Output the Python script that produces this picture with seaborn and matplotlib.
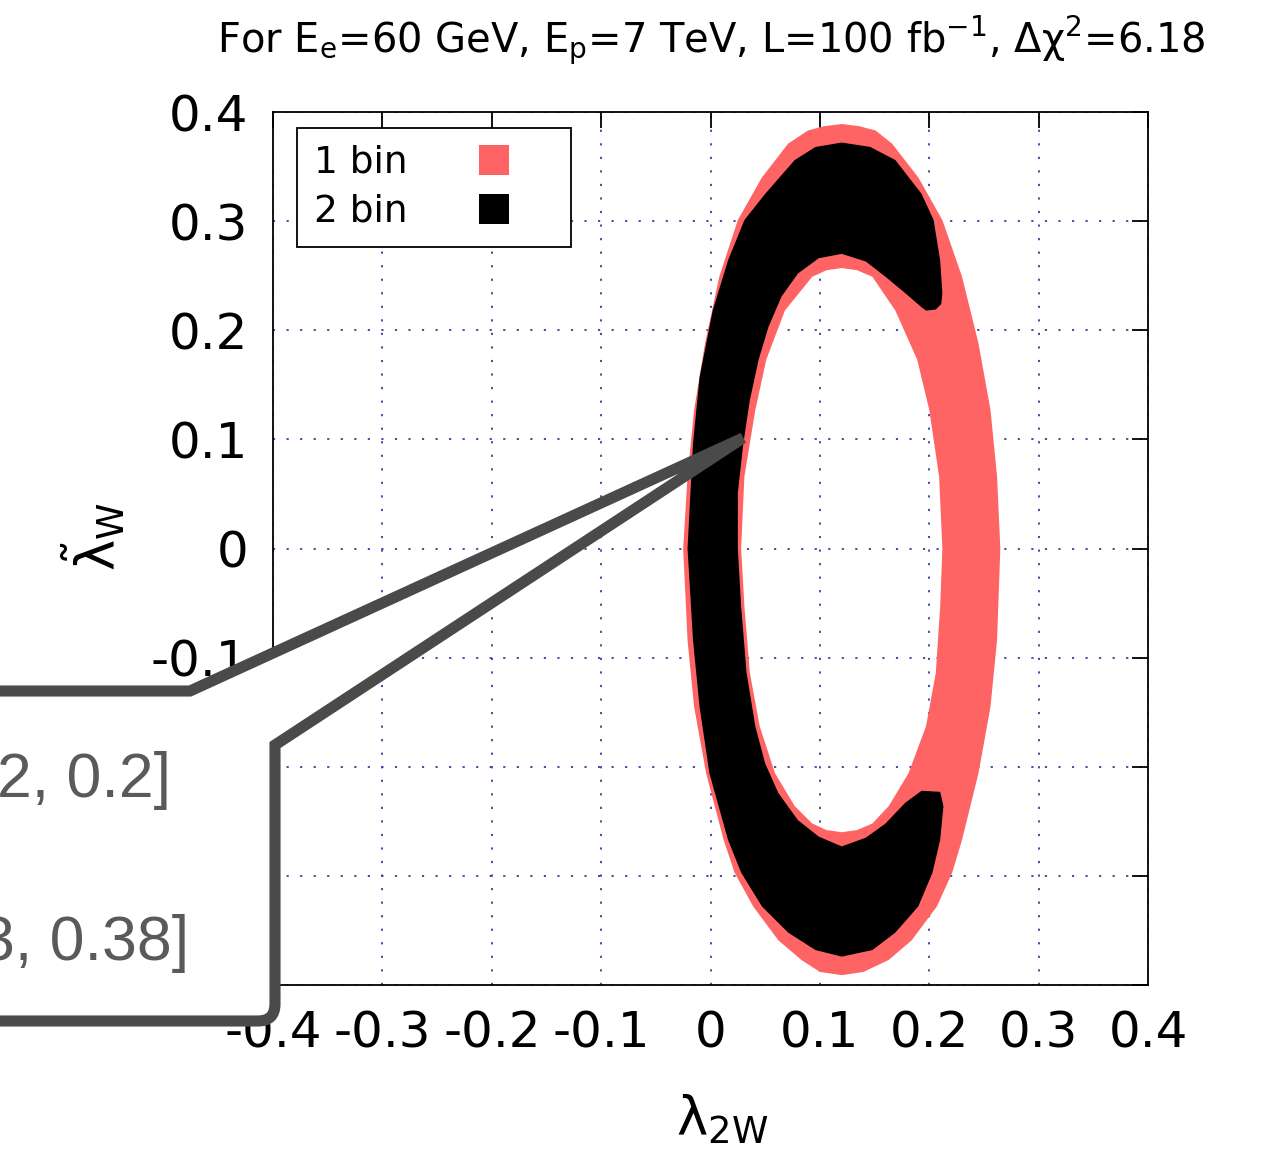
import matplotlib
matplotlib.use("Agg")
import matplotlib.pyplot as plt
from matplotlib.path import Path
from matplotlib.patches import PathPatch
from matplotlib.lines import Line2D
import seaborn as sns

# allowed regions, boundaries as (lambda_2W, lambda~_W)
# 1 bin: outer edge of the ring (clockwise from the top)
pink_outer_x = [0.120, 0.136, 0.151, 0.166, 0.190, 0.212, 0.230, 0.245, 0.256, 0.262,
                0.265, 0.262, 0.256, 0.245, 0.230, 0.221, 0.207, 0.184, 0.163, 0.140,
                0.120, 0.100, 0.083, 0.062, 0.039, 0.022, 0.012, -0.004, -0.015, -0.021,
                -0.025, -0.021, -0.015, -0.005, 0.008, 0.025, 0.047, 0.071, 0.089, 0.104]
pink_outer_y = [0.389, 0.387, 0.383, 0.371, 0.340, 0.301, 0.249, 0.188, 0.127, 0.066,
                0.000, -0.084, -0.145, -0.206, -0.267, -0.297, -0.328, -0.359, -0.377, -0.388,
                -0.391, -0.388, -0.377, -0.359, -0.328, -0.297, -0.267, -0.206, -0.145, -0.084,
                0.000, 0.066, 0.127, 0.188, 0.249, 0.301, 0.340, 0.371, 0.383, 0.387]
# 1 bin: the hole in the middle
pink_hole_x = [0.120, 0.134, 0.148, 0.169, 0.189, 0.200, 0.209, 0.212, 0.210, 0.206,
               0.197, 0.181, 0.163, 0.148, 0.134, 0.120, 0.106, 0.093, 0.077, 0.059,
               0.045, 0.036, 0.031, 0.028, 0.031, 0.041, 0.051, 0.068, 0.093, 0.106]
pink_hole_y = [0.257, 0.255, 0.249, 0.218, 0.173, 0.127, 0.066, 0.000, -0.053, -0.114,
               -0.163, -0.206, -0.236, -0.252, -0.258, -0.260, -0.258, -0.252, -0.236, -0.206,
               -0.163, -0.114, -0.053, 0.000, 0.066, 0.127, 0.173, 0.218, 0.249, 0.255]
# 2 bin: the C shaped band (tip of the upper arm first)
black_x = [0.197, 0.206, 0.211, 0.212, 0.210, 0.204, 0.193, 0.169, 0.146, 0.120,
           0.096, 0.077, 0.050, 0.031, 0.016, 0.002, -0.010, -0.016, -0.021, -0.016,
           -0.010, -0.001, 0.016, 0.028, 0.047, 0.071, 0.096, 0.120, 0.148, 0.169,
           0.190, 0.203, 0.210, 0.213, 0.210, 0.193, 0.178, 0.160, 0.142, 0.120,
           0.099, 0.080, 0.062, 0.050, 0.041, 0.033, 0.028, 0.025, 0.025, 0.030,
           0.036, 0.044, 0.053, 0.065, 0.080, 0.099, 0.120, 0.142, 0.160, 0.178,
           0.193]
black_y = [0.218, 0.219, 0.224, 0.234, 0.264, 0.301, 0.325, 0.356, 0.368, 0.372,
           0.368, 0.356, 0.325, 0.301, 0.264, 0.218, 0.157, 0.096, 0.000, -0.084,
           -0.145, -0.206, -0.267, -0.297, -0.328, -0.352, -0.368, -0.374, -0.368, -0.352,
           -0.328, -0.297, -0.267, -0.236, -0.223, -0.222, -0.233, -0.252, -0.265, -0.273,
           -0.264, -0.249, -0.224, -0.197, -0.163, -0.114, -0.053, 0.000, 0.051, 0.096,
           0.136, 0.173, 0.203, 0.231, 0.252, 0.266, 0.270, 0.263, 0.249, 0.234,
           0.221]

ticks = [-0.4, -0.3, -0.2, -0.1, 0.0, 0.1, 0.2, 0.3, 0.4]
tick_labels = ["-0.4", "-0.3", "-0.2", "-0.1", "0", "0.1", "0.2", "0.3", "0.4"]
series_names = ["1 bin", "2 bin"]
PINK = "#ff6464"
BLACK = "#000000"

title = (r"For E$_{\mathregular{e}}$=60 GeV, E$_{\mathregular{p}}$=7 TeV, "
         r"L=100 fb$^{\mathregular{-1}}$, Δχ$^{\mathregular{2}}$=6.18")


def region(xs, ys, hole_x=None, hole_y=None):
    verts = list(zip(xs, ys)) + [(xs[0], ys[0])]
    codes = [Path.MOVETO] + [Path.LINETO] * (len(xs) - 1) + [Path.CLOSEPOLY]
    if hole_x is not None:
        inner = list(zip(hole_x[::-1], hole_y[::-1]))
        verts += inner + [inner[0]]
        codes += [Path.MOVETO] + [Path.LINETO] * (len(inner) - 1) + [Path.CLOSEPOLY]
    return Path(verts, codes)


sns.set_theme(style="white")
plt.rcParams["font.family"] = ["DejaVu Sans"]
plt.rcParams["mathtext.fontset"] = "dejavusans"
plt.rcParams["text.color"] = "black"

W, H = 1265, 1154
fig = plt.figure(figsize=(W / 100, H / 100), dpi=100)
ax = fig.add_axes([273 / W, 1 - 985 / H, 875 / W, 873 / H])

ax.add_patch(PathPatch(region(pink_outer_x, pink_outer_y, pink_hole_x, pink_hole_y),
                       facecolor=PINK, edgecolor="none", zorder=2))
ax.add_patch(PathPatch(region(black_x, black_y), facecolor=BLACK, edgecolor="none", zorder=3))

ax.set_xlim(-0.4, 0.4)
ax.set_ylim(-0.4, 0.4)
ax.set_xticks(ticks, tick_labels)
ax.set_yticks(ticks, tick_labels)
ax.set_axisbelow(True)
ax.grid(True, color="#3c3ca0", linestyle=(0, (1.2, 6.3)), linewidth=1.3)
ax.tick_params(direction="in", length=11.5, width=1.3, top=True, right=True,
               labelsize=36, pad=18, colors="black")
for sp in ax.spines.values():
    sp.set_color("black")
    sp.set_linewidth(1.3)

handles = [Line2D([], [], ls="none", marker="s", markersize=21, markerfacecolor=PINK,
                  markeredgewidth=0),
           Line2D([], [], ls="none", marker="s", markersize=21, markerfacecolor=BLACK,
                  markeredgewidth=0)]
leg = ax.legend(handles, series_names, loc="upper left",
                bbox_to_anchor=(24 / 875, (985 - 128) / 873), borderaxespad=0,
                fontsize=27, markerfirst=False, handlelength=3.2, handletextpad=0.72,
                borderpad=0.45, labelspacing=0.35, fancybox=False, framealpha=1,
                edgecolor="black")
leg.get_frame().set_linewidth(1.3)

fig.text(711 / W, 1 - 40 / H, title, ha="center", va="center", fontsize=28.8)
fig.text(722 / W, 1 - 1093 / H, r"λ$_{\mathregular{2W}}$", ha="center", va="top",
         fontsize=38)
fig.text(127 / W, 1 - 537 / H, r"$\tilde{\mathregular{\lambda}}_{\mathregular{W}}$",
         rotation=90, ha="right", va="center", fontsize=38)


# callout bubble laid over the lower left corner
def px(x, y):
    return (x / W, 1 - y / H)


bubble = Path([px(-30, 691), px(190, 691), px(743, 438), px(275, 745), px(275, 1004),
               px(275, 1021), px(258, 1021), px(-30, 1021), px(-30, 691)],
              [Path.MOVETO, Path.LINETO, Path.LINETO, Path.LINETO, Path.LINETO,
               Path.CURVE3, Path.CURVE3, Path.LINETO, Path.CLOSEPOLY])
fig.add_artist(PathPatch(bubble, facecolor="white", edgecolor="#4a4a4a", linewidth=8,
                         joinstyle="miter", transform=fig.transFigure, zorder=10))
fig.text(171 / W, 1 - 797 / H, "2, 0.2]", ha="right", va="baseline", fontsize=45,
         color="#5a5a5a", family="Liberation Sans", zorder=11)
fig.text(189 / W, 1 - 960 / H, "3, 0.38]", ha="right", va="baseline", fontsize=45,
         color="#5a5a5a", family="Liberation Sans", zorder=11)

fig.savefig("out.png", dpi=100)
